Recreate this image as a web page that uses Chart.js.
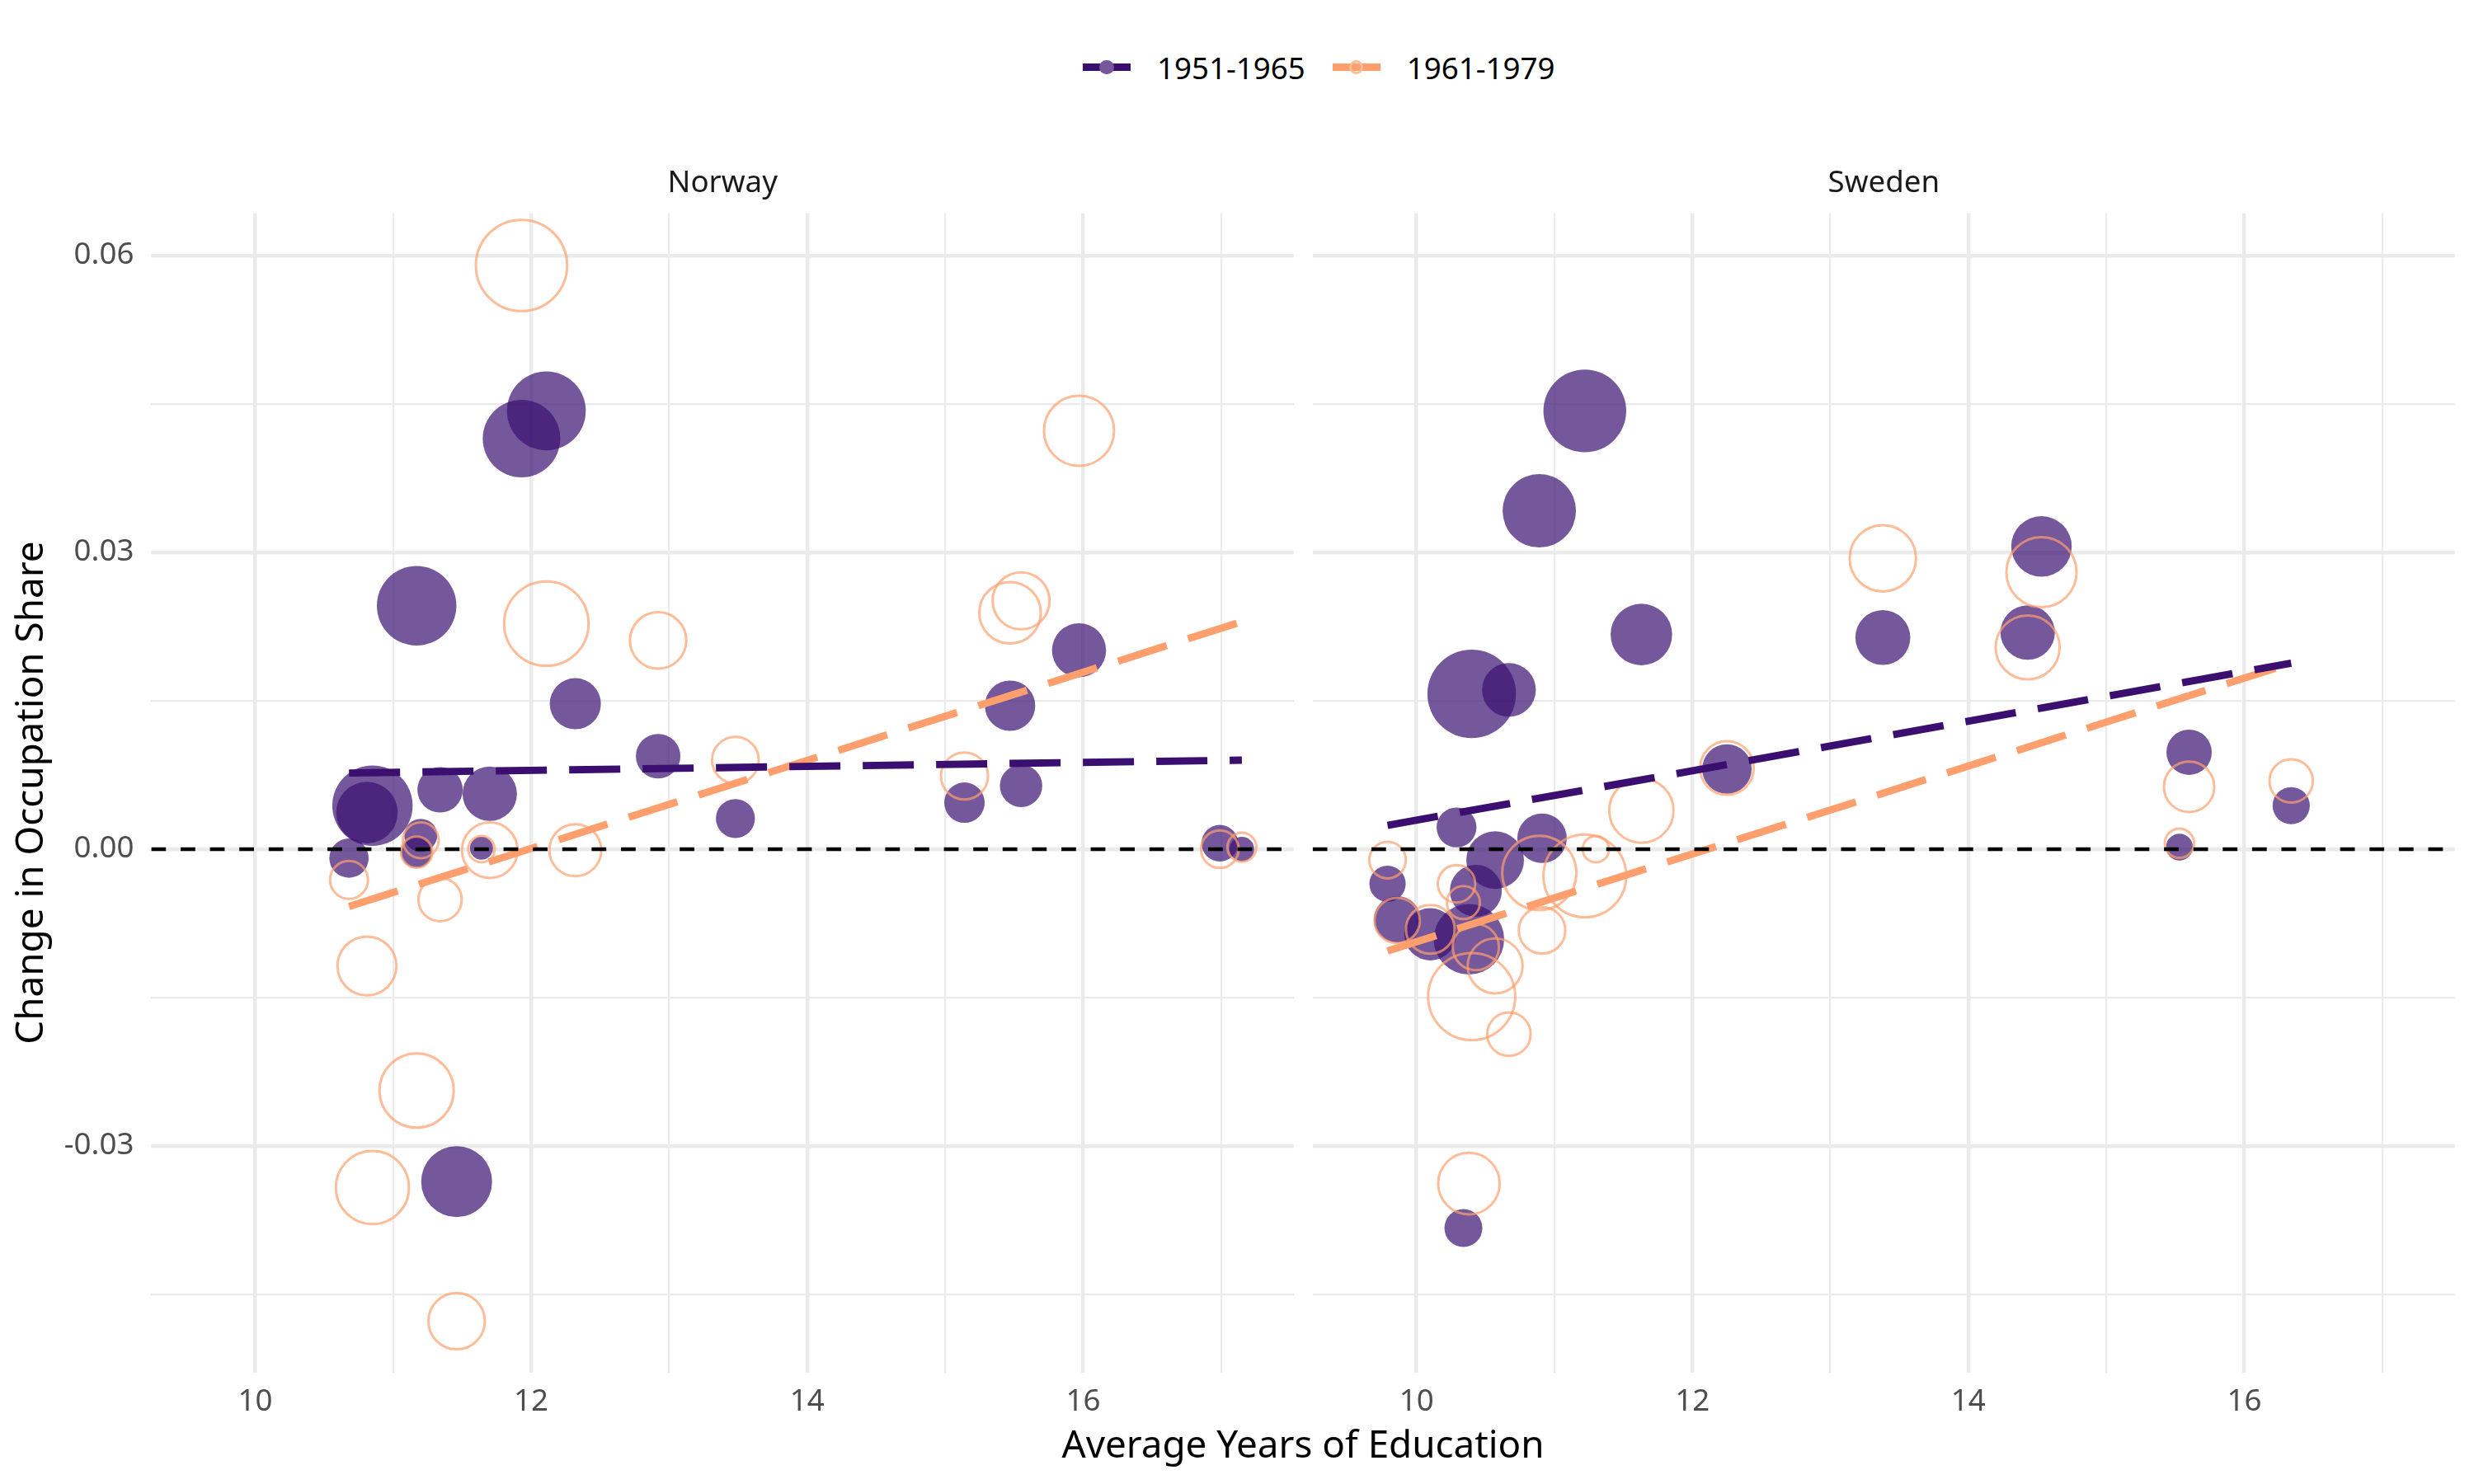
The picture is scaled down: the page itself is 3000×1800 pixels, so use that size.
<!DOCTYPE html>
<html>
<head>
<meta charset="utf-8">
<title>Change in Occupation Share vs Education</title>
<script src="https://cdn.jsdelivr.net/npm/chart.js@4.4.1/dist/chart.umd.min.js"></script>
<style>
  html, body { margin: 0; padding: 0; background: #fff; }
  body { width: 3000px; height: 1800px; position: relative; overflow: hidden; font-family: "Noto Sans", sans-serif; }
  canvas { position: absolute; top: 0; }
  #norway { left: 0; }
  #sweden { left: 1581px; }
  .legend { position: absolute; top: 58.7px; left: 1313px; height: 46px; display: flex; align-items: center; }
  .key { position: relative; width: 58px; height: 46px; }
  .key .bar { position: absolute; left: 0; top: 18.5px; width: 58px; height: 9px; }
  .key .dot { position: absolute; left: 20.3px; top: 14.3px; width: 17.4px; height: 17.4px; border-radius: 50%; box-sizing: border-box; }
  .legend .txt { font-size: 36.7px; color: #000; line-height: 46px; }
  .xtitle { position: absolute; left: 1580px; top: 1727px; transform: translateX(-50%); font-size: 45.8px; line-height: 46px; color: #000; white-space: nowrap; }
</style>
</head>
<body>
<div class="legend">
  <div class="key"><div class="bar" style="background:#3B0F70"></div><div class="dot" style="background:#76579B"></div></div>
  <div class="txt" style="margin-left:32px">1951-1965</div>
  <div class="key" style="margin-left:33px"><div class="bar" style="background:#FE9F6D"></div><div class="dot" style="border:3px solid #FEBC99"></div></div>
  <div class="txt" style="margin-left:32px">1961-1979</div>
</div>
<canvas id="norway" width="1569" height="1800"></canvas>
<canvas id="sweden" width="1419" height="1800"></canvas>
<div class="xtitle">Average Years of Education</div>
<script>
// axis limits (ggplot-style 5% expansion around the data)
var X_MIN = 9.247, X_MAX = 17.527
var Y_MIN = -0.0529, Y_MAX = 0.0643
var xMajorTicks = [10, 12, 14, 16]
var yMajorTicks = [-0.03, 0, 0.03, 0.06]

// Norway, 1951-1965
var norwayEduc51   = [11.93, 12.11, 11.17, 12.32, 12.92, 10.85, 10.81, 11.34, 11.70, 10.68, 11.20, 11.17, 11.64, 11.46, 13.48, 15.97, 15.47, 15.14, 15.55, 16.99, 17.15]
var norwayChange51 = [0.0415, 0.0443, 0.0246, 0.0147, 0.0094, 0.0044, 0.0037, 0.0060, 0.0056, -0.0009, 0.0014, -0.0003, 0.0001, -0.0336, 0.0031, 0.0201, 0.0145, 0.0047, 0.0064, 0.0006, 0.0000]
var norwayWeight51 = [5.52, 5.71, 5.81, 2.40, 1.82, 5.93, 3.48, 1.89, 2.72, 1.42, 1.00, 0.90, 0.49, 4.62, 1.40, 2.69, 2.33, 1.50, 1.65, 1.23, 0.56]
// Norway, 1961-1979
var norwayEduc61   = [11.93, 12.11, 12.92, 10.68, 11.20, 11.17, 11.64, 11.70, 12.32, 11.34, 10.81, 11.17, 10.85, 11.46, 13.48, 15.47, 15.55, 15.14, 15.97, 16.99, 17.15]
var norwayChange61 = [0.0590, 0.0228, 0.0211, -0.0031, 0.0009, -0.0003, 0.0000, -0.0001, -0.0001, -0.0051, -0.0118, -0.0244, -0.0342, -0.0477, 0.0090, 0.0239, 0.0251, 0.0074, 0.0423, 0.0000, 0.0002]
var norwayWeight61 = [7.65, 6.55, 2.92, 1.32, 1.18, 0.90, 0.64, 2.84, 2.48, 1.72, 3.19, 5.06, 4.91, 2.92, 2.00, 3.48, 2.98, 2.03, 4.52, 1.30, 0.77]

// Sweden, 1951-1965
var swedenEduc51   = [11.22, 10.89, 11.63, 10.40, 10.67, 10.29, 10.91, 12.25, 9.79, 10.57, 10.43, 9.86, 10.10, 10.38, 10.34, 13.38, 14.53, 14.43, 15.60, 15.53, 16.34]
var swedenChange51 = [0.0443, 0.0342, 0.0217, 0.0157, 0.0161, 0.0022, 0.0011, 0.0081, -0.0035, -0.0011, -0.0042, -0.0071, -0.0086, -0.0091, -0.0383, 0.0214, 0.0306, 0.0219, 0.0098, 0.0002, 0.0044]
var swedenWeight51 = [6.30, 4.95, 3.48, 7.21, 2.66, 1.46, 2.25, 2.25, 1.21, 3.06, 2.48, 2.00, 2.51, 4.56, 1.32, 2.77, 3.37, 2.72, 1.89, 0.66, 1.27]
// Sweden, 1961-1979
var swedenEduc61   = [13.38, 14.53, 14.43, 15.60, 15.53, 16.34, 12.25, 11.63, 11.30, 9.79, 10.89, 11.22, 10.29, 10.34, 9.86, 10.10, 10.57, 10.91, 10.40, 10.67, 10.38, 10.43]
var swedenChange61 = [0.0294, 0.0280, 0.0204, 0.0063, 0.0006, 0.0069, 0.0082, 0.0039, 0.0000, -0.0011, -0.0024, -0.0027, -0.0035, -0.0054, -0.0072, -0.0081, -0.0118, -0.0082, -0.0149, -0.0187, -0.0338, -0.0099]
var swedenWeight61 = [4.04, 4.52, 3.76, 2.33, 0.79, 1.73, 2.64, 3.80, 0.64, 1.23, 5.06, 6.30, 1.29, 1.00, 1.89, 2.18, 2.77, 1.99, 6.97, 1.73, 3.48, 1.96]

// fitted trend lines (ends)
var norwayFit51 = [[10.68, 0.0077], [17.15, 0.0090]]
var norwayFit61 = [[10.68, -0.0058], [17.15, 0.0230]]
var swedenFit51 = [[9.79, 0.0024], [16.34, 0.0188]]
var swedenFit61 = [[9.79, -0.0103], [16.34, 0.0188]]

var FONT = '"Noto Sans", sans-serif'
var PURPLE = '#3B0F70'
var ORANGE = '#FE9F6D'

function bubbles(xs, ys, ws){
  return xs.map(function(x, i){ return { x: x, y: ys[i], r: 20 * Math.sqrt(ws[i]) } })
}
function pts(pairs){
  return pairs.map(function(p){ return { x: p[0], y: p[1] } })
}
function near(list, v){
  for (var i = 0; i < list.length; i++) if (Math.abs(list[i] - v) < 1e-9) return list[i]
  return null
}

// facet strip label above each panel
var stripLabel = {
  id: 'stripLabel',
  afterDraw: function(chart, args, opts){
    var a = chart.chartArea, ctx = chart.ctx
    ctx.save()
    ctx.font = '36.7px ' + FONT
    ctx.fillStyle = '#1A1A1A'
    ctx.textAlign = 'center'
    ctx.textBaseline = 'middle'
    ctx.fillText(opts.text, (a.left + a.right) / 2, a.top - 36)
    ctx.restore()
  }
}

function panel(id, name, s, left){
  var ctx = document.getElementById(id)
  return new Chart(ctx, {
    type: 'bubble',
    plugins: [stripLabel],
    data: {
      datasets: [
        { type: 'line', label: 'zero', data: pts([[X_MIN, 0], [X_MAX, 0]]), borderColor: '#000', borderWidth: 4.4,
          borderDash: [17.8, 17.8], pointRadius: 0, fill: false, order: 0 },
        { type: 'line', label: '1951-1965 fit', data: pts(s.fit51), borderColor: PURPLE, borderWidth: 8.9,
          borderDash: [62, 27], pointRadius: 0, fill: false, order: 1 },
        { type: 'line', label: '1961-1979 fit', data: pts(s.fit61), borderColor: ORANGE, borderWidth: 8.9,
          borderDash: [62, 27], pointRadius: 0, fill: false, order: 2 },
        { label: '1961-1979', data: bubbles(s.e61, s.c61, s.w61), backgroundColor: 'rgba(0,0,0,0)',
          borderColor: 'rgba(254,159,109,0.7)', borderWidth: 3, order: 3 },
        { label: '1951-1965', data: bubbles(s.e51, s.c51, s.w51), backgroundColor: 'rgba(59,15,112,0.7)',
          borderWidth: 0, order: 4 }
      ]
    },
    options: {
      responsive: false,
      devicePixelRatio: 1,
      animation: false,
      events: [],
      layout: {
        autoPadding: false,   // otherwise bubble radii push the panel inwards
        padding: left ? { top: 258.4, right: 0, bottom: 0, left: 0 } : { top: 258.4, right: 23.1, bottom: 0, left: 10.7 }
      },
      plugins: { legend: { display: false }, tooltip: { enabled: false }, stripLabel: { text: name } },
      scales: {
        x: {
          type: 'linear', min: X_MIN, max: X_MAX,
          border: { display: false },
          grid: {
            color: '#EBEBEB', drawTicks: false,
            lineWidth: function(c){ return c.tick ? (near(xMajorTicks, c.tick.value) !== null ? 4.4 : 2.2) : 0 }
          },
          ticks: {
            stepSize: 1, includeBounds: false, autoSkip: false, maxRotation: 0, padding: 14,
            color: '#4D4D4D', font: { family: FONT, size: 36.7 },
            callback: function(v){ return near(xMajorTicks, v) !== null ? String(v) : '' }
          },
          afterFit: function(sc){ sc.height = 135.2 }
        },
        y: {
          type: 'linear', min: Y_MIN, max: Y_MAX,
          border: { display: false },
          grid: {
            color: '#EBEBEB', drawTicks: false,
            lineWidth: function(c){ return c.tick ? (near(yMajorTicks, Math.round(c.tick.value * 1e6) / 1e6) !== null ? 4.4 : 2.2) : 0 }
          },
          ticks: {
            display: left, stepSize: 0.015, includeBounds: false, autoSkip: false, padding: 21,
            color: '#4D4D4D', font: { family: FONT, size: 36.7 },
            callback: function(v){
              var t = near(yMajorTicks, Math.round(v * 1e6) / 1e6)
              return t !== null ? t.toFixed(2) : ''
            }
          },
          title: { display: left, text: 'Change in Occupation Share', color: '#000',
                   font: { family: FONT, size: 45.8 }, padding: { top: 11, bottom: 0 } },
          afterFit: function(sc){ sc.width = left ? 183.4 : 0 }
        }
      }
    }
  })
}

panel('norway', 'Norway', {
  e51: norwayEduc51, c51: norwayChange51, w51: norwayWeight51,
  e61: norwayEduc61, c61: norwayChange61, w61: norwayWeight61,
  fit51: norwayFit51, fit61: norwayFit61
}, true)

panel('sweden', 'Sweden', {
  e51: swedenEduc51, c51: swedenChange51, w51: swedenWeight51,
  e61: swedenEduc61, c61: swedenChange61, w61: swedenWeight61,
  fit51: swedenFit51, fit61: swedenFit61
}, false)
</script>
</body>
</html>
